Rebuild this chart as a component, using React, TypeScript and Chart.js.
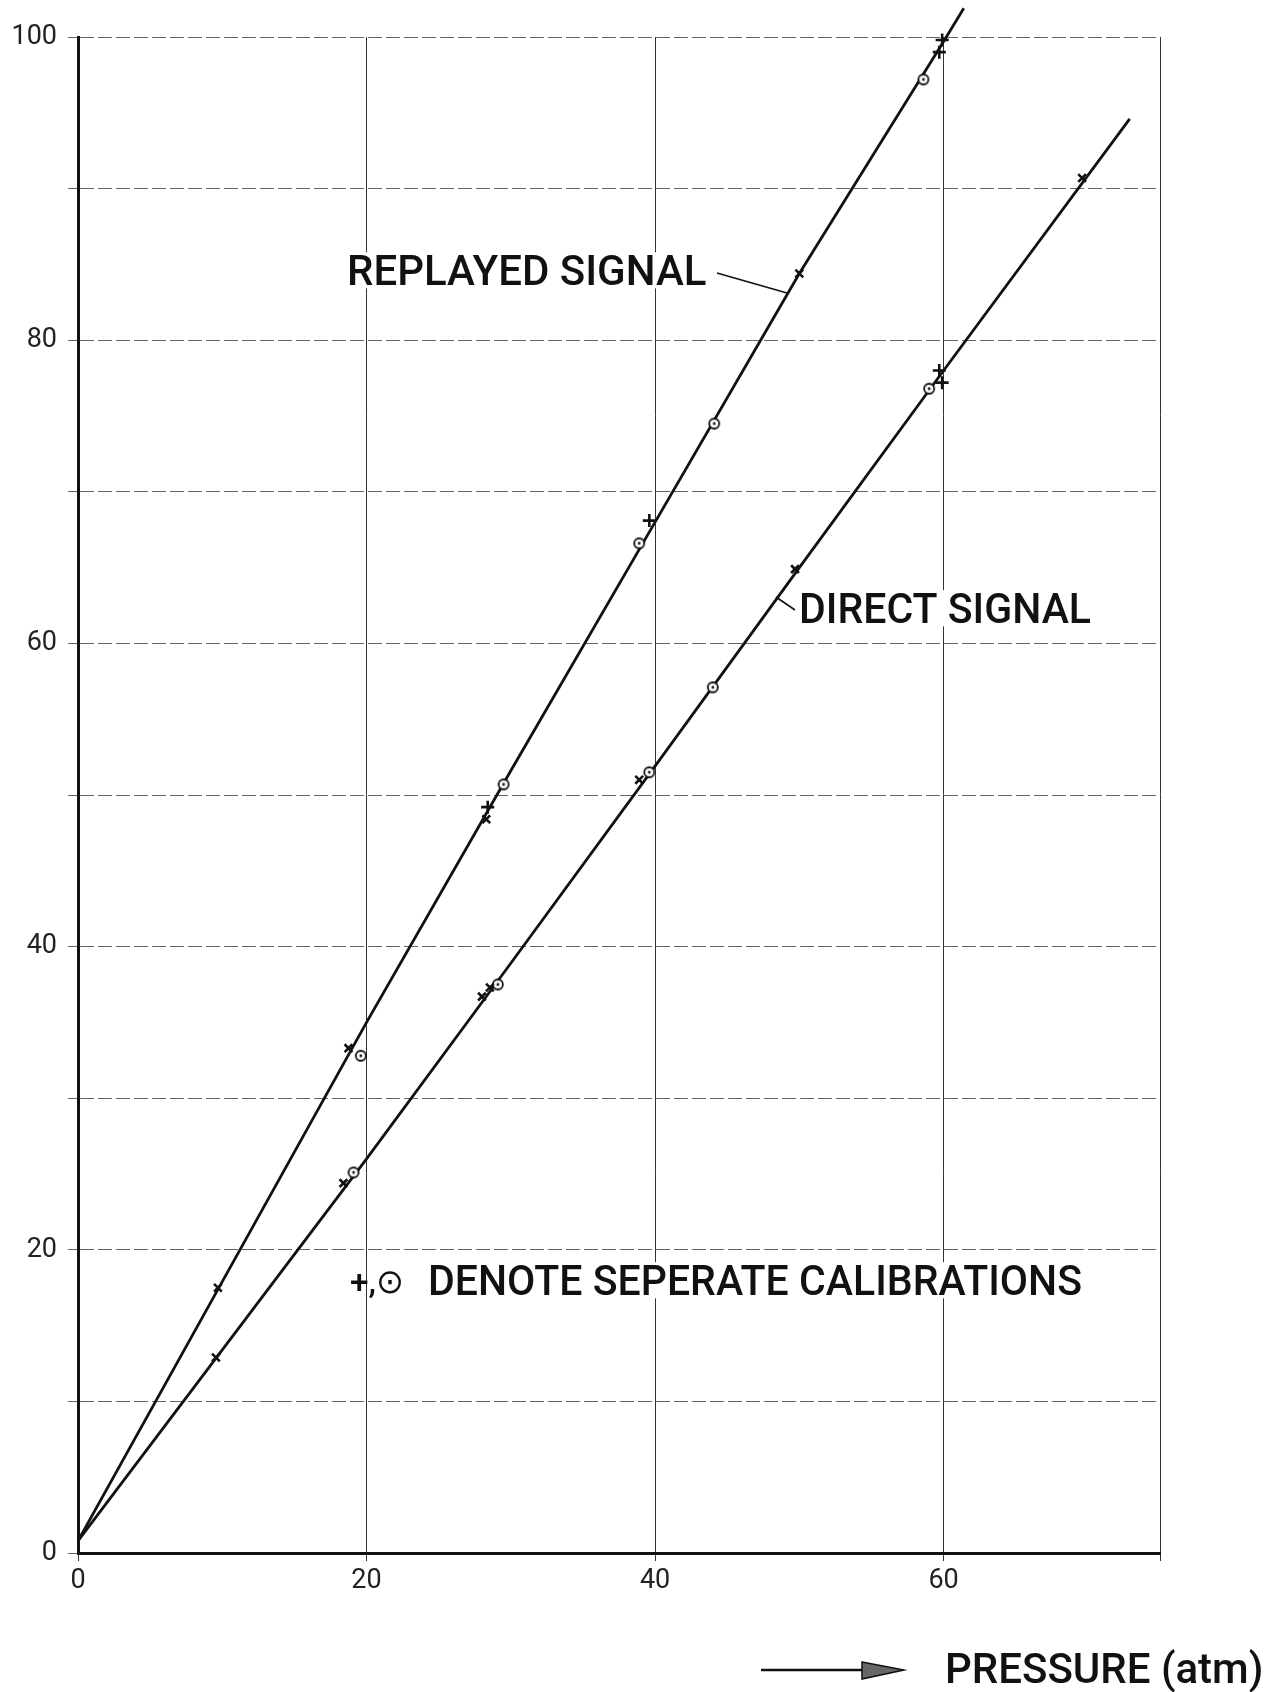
import React, { useEffect, useRef } from "react";
import { Chart, registerables } from "chart.js";

Chart.register(...registerables);

// ---- data ----
const xTickValues = [0, 20, 40, 60, 75];
const yLabelValues = [0, 20, 40, 60, 80, 100];

// drawn calibration lines
const replayedLineX = [0, 10, 20, 30, 40, 50, 60, 61.4];
const replayedLineY = [0.8, 17.9, 35.0, 51.6, 68.0, 84.4, 99.7, 101.9];
const directLineX = [0, 10, 20, 30, 40, 50, 60, 72.9];
const directLineY = [0.8, 13.4, 26.0, 38.9, 51.9, 65.0, 78.0, 94.6];

// replayed signal markers
const replayedXMarksX = [9.7, 18.75, 28.3, 50.0];
const replayedXMarksY = [17.5, 33.3, 48.4, 84.4];
const replayedPlusX = [28.4, 39.6, 59.7, 59.9];
const replayedPlusY = [49.2, 68.1, 99.0, 99.8];
const replayedCircleX = [19.6, 29.5, 38.9, 44.1, 58.6];
const replayedCircleY = [32.8, 50.7, 66.6, 74.5, 97.2];

// direct signal markers
const directXMarksX = [9.56, 18.4, 28.0, 28.55, 38.9, 49.7, 69.6];
const directXMarksY = [12.9, 24.4, 36.7, 37.3, 51.0, 64.9, 90.7];
const directPlusX = [59.7, 59.9];
const directPlusY = [78.0, 77.2];
const directCircleX = [19.1, 29.1, 39.6, 44.0, 59.0];
const directCircleY = [25.1, 37.5, 51.5, 57.1, 76.8];

const labelReplayed = "REPLAYED SIGNAL";
const labelDirect = "DIRECT SIGNAL";
const labelMarks = "+,\u2299";
const labelNote = "DENOTE SEPERATE CALIBRATIONS";
const labelAxis = "PRESSURE (atm)";

const pts = (xs: number[], ys: number[]) => xs.map((x, i) => ({ x, y: ys[i] }));

function makeCircleDot(): HTMLCanvasElement {
  const c = document.createElement("canvas");
  c.width = 14;
  c.height = 14;
  const g = c.getContext("2d")!;
  g.beginPath();
  g.arc(7, 7, 5, 0, Math.PI * 2);
  g.fillStyle = "#fff";
  g.fill();
  g.lineWidth = 1.8;
  g.strokeStyle = "#111";
  g.stroke();
  g.beginPath();
  g.arc(7, 7, 1.4, 0, Math.PI * 2);
  g.fillStyle = "#111";
  g.fill();
  return c;
}

const FONT = 'Roboto, "DejaVu Sans", sans-serif';

const annotationPlugin = {
  id: "annotations",
  afterDraw(chart: any) {
    const ctx: CanvasRenderingContext2D = chart.ctx;
    ctx.save();
    ctx.textAlign = "left";
    ctx.textBaseline = "alphabetic";

    const label = (t: string, x: number, base: number, w: number, size: number) => {
      ctx.fillStyle = "#fff";
      ctx.fillRect(x - 4, base - size * 0.78, w + 8, size * 0.86);
      ctx.fillStyle = "#111";
      ctx.font = `500 ${size}px ${FONT}`;
      ctx.fillText(t, x, base, w);
    };
    label(labelReplayed, 347, 285, 368, 42);
    label(labelDirect, 799, 623, 292, 42);
    label(labelNote, 428, 1295, 654, 42);
    label(labelAxis, 945, 1683, 320, 42);
    ctx.fillStyle = "#111";
    ctx.font = `500 34px ${FONT}`;
    ctx.fillText(labelMarks, 350, 1293, 54);

    // leader lines
    ctx.strokeStyle = "#111";
    ctx.lineWidth = 1.6;
    ctx.beginPath();
    ctx.moveTo(717, 273);
    ctx.lineTo(787, 293);
    ctx.moveTo(776, 597);
    ctx.lineTo(795, 610);
    ctx.stroke();

    // arrow
    ctx.lineWidth = 2.5;
    ctx.beginPath();
    ctx.moveTo(761, 1670);
    ctx.lineTo(866, 1670);
    ctx.stroke();
    ctx.beginPath();
    ctx.moveTo(862, 1662);
    ctx.lineTo(904, 1670);
    ctx.lineTo(862, 1679);
    ctx.closePath();
    ctx.fillStyle = "#666";
    ctx.fill();
    ctx.lineWidth = 1.5;
    ctx.stroke();
    ctx.restore();
  },
};

export default function App() {
  const ref = useRef<HTMLCanvasElement | null>(null);

  useEffect(() => {
    if (!ref.current) return;
    const circleDot = makeCircleDot();
    const lineDs = (xs: number[], ys: number[]) => ({
      data: pts(xs, ys),
      showLine: true,
      borderColor: "#111",
      borderWidth: 2.8,
      pointRadius: 0,
      clip: false as any,
      order: 2,
    });
    const markDs = (xs: number[], ys: number[], style: any, radius: number) => ({
      data: pts(xs, ys),
      showLine: false,
      pointStyle: style,
      pointRadius: radius,
      pointBorderWidth: 2.6,
      pointBorderColor: "#111",
      pointBackgroundColor: "#fff",
      clip: false as any,
      order: 1,
    });

    const chart = new Chart(ref.current, {
      type: "scatter",
      data: {
        datasets: [
          lineDs(replayedLineX, replayedLineY),
          lineDs(directLineX, directLineY),
          markDs(replayedXMarksX, replayedXMarksY, "crossRot", 5.5),
          markDs(replayedPlusX, replayedPlusY, "cross", 6.5),
          markDs(replayedCircleX, replayedCircleY, circleDot, 6),
          markDs(directXMarksX, directXMarksY, "crossRot", 5.5),
          markDs(directPlusX, directPlusY, "cross", 6.5),
          markDs(directCircleX, directCircleY, circleDot, 6),
        ] as any,
      },
      options: {
        animation: false,
        responsive: false,
        maintainAspectRatio: false,
        layout: { padding: { top: 37, right: 125, left: 0, bottom: 79 } },
        plugins: {
          legend: { display: false },
          tooltip: { enabled: false },
        },
        scales: {
          x: {
            type: "linear",
            min: 0,
            max: 75,
            afterFit: (s: any) => {
              s.height = 60;
            },
            afterBuildTicks: (s: any) => {
              s.ticks = xTickValues.map((v) => ({ value: v }));
            },
            ticks: {
              autoSkip: false,
              maxRotation: 0,
              padding: 4,
              color: "#222",
              font: { family: FONT, size: 27 },
              callback: (v: any) => (v === 75 ? "" : String(v)),
            },
            grid: {
              color: "#333",
              lineWidth: 1,
              tickLength: 8,
            },
            border: { display: true, color: "#111", width: 3 },
          },
          y: {
            type: "linear",
            min: 0,
            max: 100,
            afterFit: (s: any) => {
              s.width = 78;
            },
            ticks: {
              stepSize: 10,
              autoSkip: false,
              padding: 11,
              color: "#222",
              font: { family: FONT, size: 27 },
              callback: (v: any) => (yLabelValues.includes(v) ? String(v) : ""),
            },
            grid: {
              color: "#666",
              lineWidth: 1,
              tickLength: 10,
            },
            border: { display: true, color: "#111", width: 3, dash: [14, 4] },
          },
        },
      },
      plugins: [annotationPlugin],
    });
    return () => chart.destroy();
  }, []);

  return (
    <div style={{ position: "absolute", left: 0, top: 0, width: 1285, height: 1692, background: "#fff" }}>
      <canvas ref={ref} width={1285} height={1692} style={{ width: 1285, height: 1692, display: "block" }} />
    </div>
  );
}
